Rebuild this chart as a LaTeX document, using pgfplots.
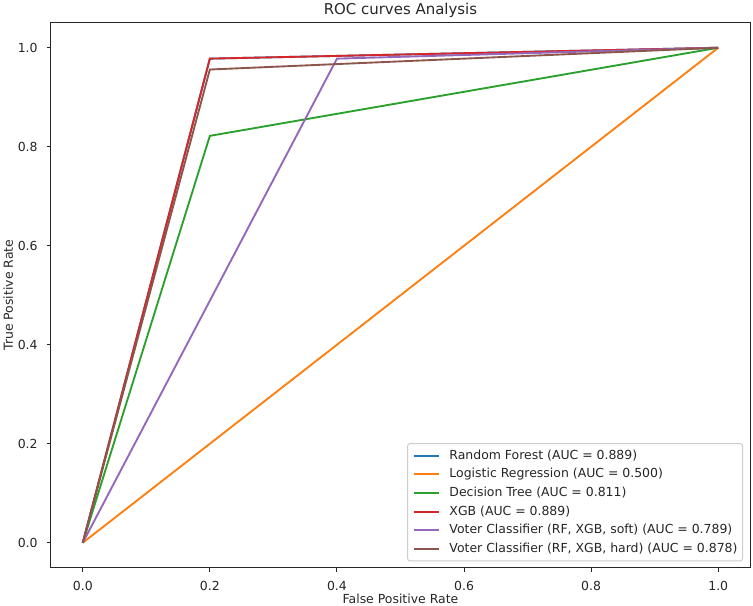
\documentclass[border=0pt]{standalone}
\usepackage{fontspec}
\setmainfont{DejaVu Sans}
\usepackage{pgfplots}
\pgfplotsset{compat=1.18}
\definecolor{c0}{HTML}{1F77B4}
\definecolor{c1}{HTML}{FF7F0E}
\definecolor{c2}{HTML}{2CA02C}
\definecolor{c3}{HTML}{D62728}
\definecolor{c4}{HTML}{9467BD}
\definecolor{c5}{HTML}{8C564B}
\begin{document}
\begin{tikzpicture}
\begin{axis}[
  name=ax, at={(0,0)}, anchor=south west,
  scale only axis, width=699bp, height=544.5bp,
  xmin=-0.05, xmax=1.05, ymin=-0.05, ymax=1.05,
  xtick={0,0.2,0.4,0.6,0.8,1.0},
  ytick={0,0.2,0.4,0.6,0.8,1.0},
  /pgf/number format/fixed,
  /pgf/number format/fixed zerofill,
  /pgf/number format/precision=1,
  /pgf/number format/assume math mode=true,
  font=\fontsize{12.5}{15}\selectfont,
  title={ROC curves Analysis},
  title style={font=\fontsize{15}{18}\selectfont, at={(axis description cs:0.5,1)}, anchor=south, text depth=0pt, yshift=2bp, inner sep=0pt, text=black!85},
  xlabel={False Positive Rate},
  xlabel style={at={(axis description cs:0.5,0)}, anchor=base, yshift=-35.5bp, inner sep=0pt, text=black!85},
  ylabel={True Positive Rate},
  ylabel style={at={(axis description cs:-0.0544,0.5)}, anchor=base, inner sep=0pt, text=black!85},
  axis line style={line width=1bp, black!85},
  every tick/.style={black!85, line width=1bp},
  major tick length=4.4bp, tick align=outside, tick pos=left,
  xticklabel style={anchor=north, inner sep=0pt, yshift=-8.8bp, text=black!85},
  yticklabel style={anchor=east, inner sep=0pt, xshift=-8.8bp, text=black!85},
  legend cell align=left,
  legend image code/.code={\draw[#1, line width=1.875bp] (0bp,0bp) -- (25bp,0bp);},
  legend style={at={(axis description cs:1,0)}, anchor=south east, xshift=-7bp, yshift=6bp,
    draw=black!20, line width=1bp, rounded corners=2.5bp, fill=white,
    font=\fontsize{12.5}{15}\selectfont, text=black!85,
    inner xsep=5bp, inner ysep=6bp, row sep=6.67bp, column sep=10bp,
    nodes={inner sep=0pt, text height=9.5bp, text depth=2.5bp}},
]
\addplot[c0, line width=1.875bp] coordinates {(0,0) (0.2,0.978) (1,1)};
\addlegendentry{Random Forest (AUC = 0.889)}
\addplot[c1, line width=1.875bp] coordinates {(0,0) (1,1)};
\addlegendentry{Logistic Regression (AUC = 0.500)}
\addplot[c2, line width=1.875bp] coordinates {(0,0) (0.2,0.822) (1,1)};
\addlegendentry{Decision Tree (AUC = 0.811)}
\addplot[c3, line width=1.875bp] coordinates {(0,0) (0.2,0.978) (1,1)};
\addlegendentry{XGB (AUC = 0.889)}
\addplot[c4, line width=1.875bp] coordinates {(0,0) (0.4,0.978) (1,1)};
\addlegendentry{Voter Classifier (RF, XGB, soft) (AUC = 0.789)}
\addplot[c5, line width=1.875bp] coordinates {(0,0) (0.2,0.956) (1,1)};
\addlegendentry{Voter Classifier (RF, XGB, hard) (AUC = 0.878)}
\end{axis}
\pgfresetboundingbox
\path ([shift={(-51bp,-38.5bp)}]ax.south west) rectangle ([shift={(3bp,23bp)}]ax.north east);
\end{tikzpicture}
\end{document}
